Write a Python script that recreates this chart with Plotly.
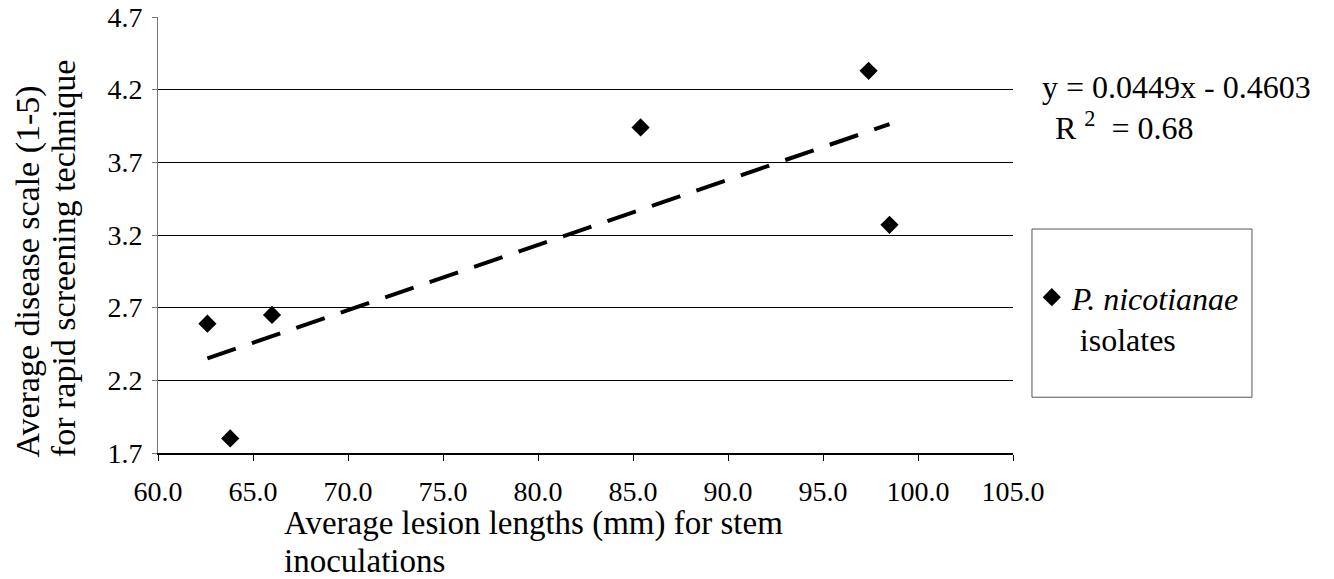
import plotly.graph_objects as go

# ---- data ----
lesion_mm = [62.6, 63.8, 66.0, 85.4, 97.4, 98.5]
disease_scale = [2.59, 1.80, 2.65, 3.94, 4.33, 3.27]
series_name = "P. nicotianae"
series_name2 = "isolates"
slope = 0.0449
intercept = -0.4603
r_squared = 0.68
x_ticks = [60, 65, 70, 75, 80, 85, 90, 95, 100, 105]
y_ticks = [1.7, 2.2, 2.7, 3.2, 3.7, 4.2, 4.7]
y_grid = [2.2, 2.7, 3.2, 3.7, 4.2]
x_title = ["Average lesion lengths (mm) for stem", "inoculations"]
y_title = ["Average disease scale (1-5)", "for rapid screening technique"]

FONT = "Liberation Serif, Times New Roman, serif"
Y_RANGE = [1.7, 4.7001]

trend_x = [min(lesion_mm), max(lesion_mm)]
trend_y = [slope * v + intercept for v in trend_x]

fig = go.Figure()
fig.add_trace(go.Scatter(
    x=trend_x, y=trend_y, mode="lines", yaxis="y2",
    line=dict(color="black", width=4, dash="30px,17px"),
    showlegend=False, hoverinfo="skip"))
fig.add_trace(go.Scatter(
    x=lesion_mm, y=disease_scale, mode="markers",
    name="<i>%s</i><br>\u00a0%s" % (series_name, series_name2),
    marker=dict(symbol="diamond", size=14, color="black")))

fig.update_layout(
    width=1334, height=579,
    margin=dict(l=150, r=329, t=9, b=134),
    paper_bgcolor="white", plot_bgcolor="white",
    font=dict(family=FONT, color="black", size=28),
    xaxis=dict(range=[60, 105], tickvals=x_ticks, tickformat=".1f",
               showgrid=False, zeroline=False, automargin=False,
               showline=True, linecolor="black", linewidth=1.5,
               ticks="outside", ticklen=6, tickcolor="black",
               ticklabelstandoff=7, ticklabeloverflow="allow",
               tickfont=dict(size=28, family=FONT)),
    yaxis=dict(range=Y_RANGE, tickvals=y_ticks, tickformat=".1f",
               showgrid=False, zeroline=False, automargin=False,
               showline=True, linecolor="#777", linewidth=1,
               ticks="outside", ticklen=5, tickcolor="#777",
               ticklabelstandoff=4, ticklabeloverflow="allow",
               tickfont=dict(size=28, family=FONT)),
    yaxis2=dict(range=Y_RANGE, overlaying="y", side="left",
                tickvals=y_grid, showticklabels=False, ticks="",
                showgrid=True, gridcolor="black", gridwidth=1.3,
                zeroline=False, showline=False, automargin=False),
    legend=dict(x=1.022, y=0.42, xanchor="left", yanchor="top",
                valign="top", bgcolor="rgba(0,0,0,0)", borderwidth=0,
                font=dict(size=32, family=FONT)),
    showlegend=True,
)

# legend frame
fig.add_shape(type="rect", xref="paper", yref="paper",
              x0=1.0222, x1=1.2795, y0=0.1279, y1=0.5137,
              line=dict(color="#555", width=1))

eq_text = "y = %.4fx - %.4f" % (slope, abs(intercept))
r2_text = "R <sup>2</sup>  = %.2f" % r_squared
fig.add_annotation(text=eq_text, xref="paper", yref="paper",
                   x=1.0316, y=0.840, xanchor="left", yanchor="middle",
                   showarrow=False, font=dict(size=32, family=FONT))
fig.add_annotation(text=r2_text, xref="paper", yref="paper",
                   x=1.0468, y=0.749, xanchor="left", yanchor="middle",
                   showarrow=False, font=dict(size=32, family=FONT))

# x-axis title (two left-aligned lines)
fig.add_annotation(text=x_title[0], xref="paper", yref="paper",
                   x=0.1450, y=-0.162, xanchor="left", yanchor="middle",
                   showarrow=False, font=dict(size=33, family=FONT))
fig.add_annotation(text=x_title[1], xref="paper", yref="paper",
                   x=0.1450, y=-0.247, xanchor="left", yanchor="middle",
                   showarrow=False, font=dict(size=33, family=FONT))

# y-axis title (two lines, bottom aligned)
fig.add_annotation(text=y_title[0], xref="paper", yref="paper",
                   x=-0.152, y=-0.015, xanchor="center", yanchor="bottom",
                   textangle=-90, showarrow=False,
                   font=dict(size=34, family=FONT))
fig.add_annotation(text=y_title[1], xref="paper", yref="paper",
                   x=-0.111, y=-0.015, xanchor="center", yanchor="bottom",
                   textangle=-90, showarrow=False,
                   font=dict(size=34, family=FONT))

fig.write_html("out.html")
